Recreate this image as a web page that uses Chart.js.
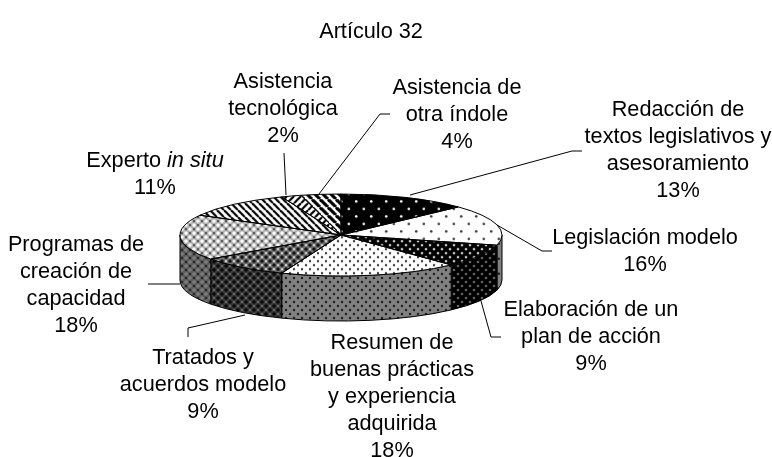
<!DOCTYPE html>
<html>
<head>
<meta charset="utf-8">
<style>
  html, body { margin: 0; padding: 0; background: #fff; }
  canvas { display: block; }
</style>
<script src="https://cdn.jsdelivr.net/npm/chart.js@4"></script>
</head>
<body>
<canvas id="chart" width="772" height="457"></canvas>
<script>
// Data
const categories = [
  "Redacción de textos legislativos y asesoramiento",
  "Legislación modelo",
  "Elaboración de un plan de acción",
  "Resumen de buenas prácticas y experiencia adquirida",
  "Tratados y acuerdos modelo",
  "Programas de creación de capacidad",
  "Experto in situ",
  "Asistencia tecnológica",
  "Asistencia de otra índole"
];
const shares = [13, 16, 9, 18, 9, 18, 11, 2, 4];
const chartTitle = "Artículo 32";

// Label text, one entry per line
const labelLines = [
  ["Redacción de", "textos legislativos y", "asesoramiento", "13%"],
  ["Legislación modelo", "16%"],
  ["Elaboración de un", "plan de acción", "9%"],
  ["Resumen de", "buenas prácticas", "y experiencia", "adquirida", "18%"],
  ["Tratados y", "acuerdos modelo", "9%"],
  ["Programas de", "creación de", "capacidad", "18%"],
  ["Experto |in situ", "11%"],
  ["Asistencia", "tecnológica", "2%"],
  ["Asistencia de", "otra índole", "4%"]
];

// Layout: label centre x and first baseline
const labelSpots = [
  [678, 116], [645, 244], [591, 316], [392, 349], [203, 364],
  [76, 251], [155, 167], [283, 88], [457, 94]
];
const leaders = [
  [[410, 195], [572, 151], [582, 151]],
  [[497, 225], [542, 251], [552, 251]],
  [[481, 301], [491, 337], [501, 337]],
  [[245, 315], [188, 328], [188, 337]],
  [[180, 284], [148, 284]],
  [[286, 195], [284, 153]],
  [[319, 194], [380, 114], [390, 114]]
];

const FONT_SIZE = 21.7;
const LINE_H = 27;
const FONT = "Liberation Sans, Arial, sans-serif";
const SQUASH = 41 / 161;
const DEPTH = 45;

// Patterns
function shade(v, dim) {
  const c = Math.round(v * dim);
  return `rgb(${c},${c},${c})`;
}

function dots(size, bg, fg, r, dim) {
  const c = document.createElement("canvas");
  c.width = c.height = size;
  const x = c.getContext("2d");
  x.fillStyle = shade(bg, dim);
  x.fillRect(0, 0, size, size);
  x.fillStyle = shade(fg, dim);
  [[size / 4, size / 4], [size * 3 / 4, size * 3 / 4]].forEach(p => {
    x.beginPath();
    x.arc(p[0], p[1], r, 0, Math.PI * 2);
    x.fill();
  });
  return c;
}

function stripes(size, dir, width, dim) {
  const c = document.createElement("canvas");
  c.width = c.height = size;
  const x = c.getContext("2d");
  x.fillStyle = shade(255, dim);
  x.fillRect(0, 0, size, size);
  x.strokeStyle = shade(0, dim);
  x.lineWidth = width;
  for (let i = -size; i <= size; i += size) {
    x.beginPath();
    if (dir > 0) {
      x.moveTo(i, 0);
      x.lineTo(i + size, size);
    } else {
      x.moveTo(i + size, 0);
      x.lineTo(i, size);
    }
    x.stroke();
  }
  return c;
}

// staggered lattice: big blobs with small specks between them
function lattice(size, bg, blob, blobR, speck, speckR, dim) {
  const c = document.createElement("canvas");
  c.width = c.height = size;
  const x = c.getContext("2d");
  const q = size / 4;
  x.fillStyle = shade(bg, dim);
  x.fillRect(0, 0, size, size);
  x.fillStyle = shade(blob, dim);
  [[q, q], [3 * q, 3 * q]].forEach(p => {
    x.beginPath();
    x.arc(p[0], p[1], blobR, 0, Math.PI * 2);
    x.fill();
  });
  x.fillStyle = shade(speck, dim);
  [[3 * q, q], [q, 3 * q]].forEach(p => {
    x.beginPath();
    x.arc(p[0], p[1], speckR, 0, Math.PI * 2);
    x.fill();
  });
  return c;
}

const painters = [
  dim => dots(15, 0, 255, 1.3, dim),
  dim => dots(15, 255, 60, 1.3, dim),
  dim => dots(8, 0, 200, 1.3, dim),
  dim => dots(8, 255, 60, 1.2, dim),
  dim => lattice(8, 115, 15, 1.8, 235, 1, dim),
  dim => lattice(8, 175, 255, 1.8, 40, 0.9, dim),
  dim => stripes(7, 1, 2.2, dim),
  dim => stripes(7, -1, 2.2, dim),
  dim => stripes(8, 1, 3.2, dim)
];

const ctx = document.getElementById("chart").getContext("2d");

// Top face is drawn under a vertical squash, so undo it in the pattern
const topFills = painters.map(p => {
  const pat = ctx.createPattern(p(1), "repeat");
  pat.setTransform(new DOMMatrix().scale(1, 1 / SQUASH));
  return pat;
});
const sideFills = painters.map(p => ctx.createPattern(p(0.5), "repeat"));

function sliceGeometry(chart) {
  const arcs = chart.getDatasetMeta(0).data;
  const first = arcs[0].getProps(["x", "y", "outerRadius"], true);
  return { arcs, cx: first.x, cy: first.y, rx: first.outerRadius, ry: first.outerRadius * SQUASH };
}

const pie3d = {
  id: "pie3d",
  beforeDatasetsDraw(chart) {
    const c = chart.ctx;
    const g = sliceGeometry(chart);
    c.save();
    c.lineWidth = 1;
    c.strokeStyle = "#000";
    g.arcs.forEach((arc, i) => {
      const p = arc.getProps(["startAngle", "endAngle"], true);
      const a0 = Math.max(p.startAngle, 0);
      const a1 = Math.min(p.endAngle, Math.PI);
      if (a1 <= a0) return;
      c.beginPath();
      c.ellipse(g.cx, g.cy, g.rx, g.ry, 0, a0, a1);
      c.ellipse(g.cx, g.cy + DEPTH, g.rx, g.ry, 0, a1, a0, true);
      c.closePath();
      c.fillStyle = sideFills[i];
      c.fill();
      c.stroke();
    });
    c.restore();
  },
  beforeDatasetDraw(chart) {
    const c = chart.ctx;
    const g = sliceGeometry(chart);
    c.save();
    c.translate(g.cx, g.cy);
    c.scale(1, SQUASH);
    c.translate(-g.cx, -g.cy);
  },
  afterDatasetDraw(chart) {
    chart.ctx.restore();
  },
  afterDatasetsDraw(chart) {
    const c = chart.ctx;
    const g = sliceGeometry(chart);
    c.save();
    c.lineWidth = 1;
    c.strokeStyle = "#000";
    g.arcs.forEach(arc => {
      const p = arc.getProps(["startAngle", "endAngle"], true);
      c.beginPath();
      c.moveTo(g.cx, g.cy);
      c.ellipse(g.cx, g.cy, g.rx, g.ry, 0, p.startAngle, p.endAngle);
      c.closePath();
      c.stroke();
    });
    leaders.forEach(line => {
      c.beginPath();
      line.forEach((pt, i) => (i ? c.lineTo(pt[0], pt[1]) : c.moveTo(pt[0], pt[1])));
      c.stroke();
    });
    c.restore();
    drawLabels(c);
  }
};

function drawLine(c, text, cx, y) {
  // text after "|" is italic
  const parts = text.split("|");
  c.font = `${FONT_SIZE}px ${FONT}`;
  const w0 = c.measureText(parts[0]).width;
  c.font = `italic ${FONT_SIZE}px ${FONT}`;
  const w1 = parts[1] ? c.measureText(parts[1]).width : 0;
  const left = cx - (w0 + w1) / 2;
  c.font = `${FONT_SIZE}px ${FONT}`;
  c.fillText(parts[0], left, y);
  if (parts[1]) {
    c.font = `italic ${FONT_SIZE}px ${FONT}`;
    c.fillText(parts[1], left + w0, y);
  }
}

function drawLabels(c) {
  c.save();
  c.fillStyle = "#000";
  c.textAlign = "left";
  c.textBaseline = "alphabetic";
  drawLine(c, chartTitle, 371, 38);
  labelLines.forEach((lines, i) => {
    lines.forEach((line, j) => drawLine(c, line, labelSpots[i][0], labelSpots[i][1] + j * LINE_H));
  });
  c.restore();
}

new Chart(ctx, {
  type: "pie",
  data: {
    labels: categories,
    datasets: [{
      data: shares,
      backgroundColor: topFills,
      borderWidth: 0
    }]
  },
  options: {
    responsive: false,
    animation: false,
    layout: { padding: { left: 180, right: 270, top: 74, bottom: 61 } },
    plugins: {
      legend: { display: false },
      tooltip: { enabled: false }
    }
  },
  plugins: [pie3d]
});
</script>
</body>
</html>
